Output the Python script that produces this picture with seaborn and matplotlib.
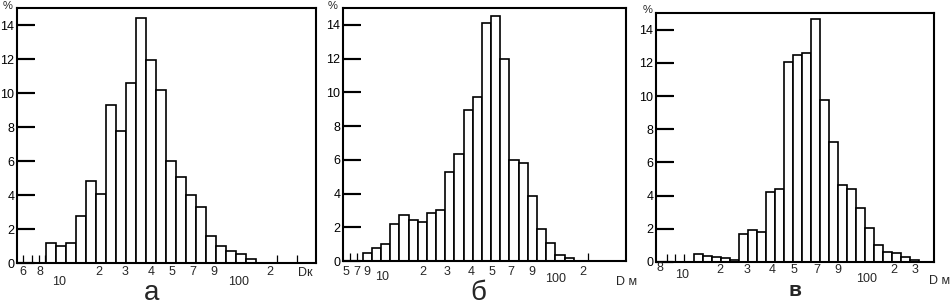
import numpy as np
import matplotlib
matplotlib.use("Agg")
import matplotlib.pyplot as plt
import seaborn as sns

# доли (%) по логарифмическим интервалам D
vals_a = [1.2, 1.0, 1.2, 2.75, 4.85, 4.05, 9.3, 7.75, 10.6, 14.4, 11.95,
          10.15, 6.0, 5.05, 4.0, 3.3, 1.6, 1.0, 0.7, 0.55, 0.25]
vals_b = [0.45, 0.75, 1.0, 2.2, 2.75, 2.45, 2.3, 2.85, 3.0, 5.3, 6.35, 8.95,
          9.75, 14.1, 14.5, 12.0, 6.0, 5.8, 3.85, 1.9, 1.05, 0.35, 0.2]
vals_c = [0.5, 0.35, 0.28, 0.22, 0.12, 1.7, 1.95, 1.8, 4.2, 4.4, 12.05, 12.45,
          12.6, 14.65, 9.75, 7.2, 4.65, 4.4, 3.25, 2.05, 1.05, 0.6, 0.55, 0.28, 0.1]

labels_a = ["6", "8", "10", "2", "3", "4", "5", "7", "9", "100", "2", "Dк"]
labels_b = ["5", "7", "9", "10", "2", "3", "4", "5", "7", "9", "100", "2", "D м"]
labels_c = ["8", "10", "2", "3", "4", "5", "7", "9", "100", "2", "3", "D м"]

y_ticks = [0, 2, 4, 6, 8, 10, 12, 14]
panel_names = ["а", "б", "в"]

# раскладка: положение подписей (в номерах интервалов) и сдвиг вниз в пикселях
PANELS = [
    dict(vals=vals_a, labels=labels_a,
         pos=[-2.83, -1.17, 0.73, 4.73, 7.4, 10.0, 12.07, 14.13, 16.3, 18.73, 21.83, 25.4],
         drop=[9, 9, 19, 9, 9, 9, 9, 9, 9, 19, 9, 10],
         minor=[-2.83, -1.93, -1.27, -0.6, 22.57, 24.57],
         xlim=(-3.43, 26.5), rect=[0.0179, 0.1405, 0.3141, 0.8333],
         pct=(8, 6), name_xy=(152, 293), name_fs=20, name_bold=False),
    dict(vals=vals_b, labels=labels_b,
         pos=[-2.27, -1.18, -0.02, 1.65, 6.09, 8.73, 11.36, 13.55, 15.65, 17.9, 20.56, 23.47, 28.3],
         drop=[11, 11, 11, 16, 11, 11, 11, 11, 11, 11, 18, 11, 21],
         minor=[-1.91, -1.07, -0.35, 1.0, 24.1],
         xlim=(-2.64, 28.2), rect=[0.3603, 0.147, 0.2973, 0.8268],
         pct=(333, 6), name_xy=(478, 293), name_fs=20, name_bold=False),
    dict(vals=vals_c, labels=labels_c,
         pos=[-4.26, -1.85, 2.41, 5.37, 8.26, 10.63, 13.15, 15.56, 18.7, 21.74, 24.07, 26.85],
         drop=[6, 13, 8, 8, 8, 8, 8, 8, 17, 8, 8, 19],
         minor=[-3.52, -2.59, -1.59],
         xlim=(-4.70, 26.2), rect=[0.6891, 0.1438, 0.2920, 0.8137],
         pct=(648, 10), name_xy=(795, 291), name_fs=15, name_bold=True),
]

W, H = 952, 306
TICK_PX = 17


def draw_panel(fig, p, name):
    ax = fig.add_axes(p["rect"])
    x = np.arange(len(p["vals"]))
    sns.barplot(x=x, y=p["vals"], native_scale=True, width=1, color="white",
                saturation=1, edgecolor="black", linewidth=1.2, errorbar=None, ax=ax)

    ax.set_xlim(*p["xlim"])
    ax.set_ylim(0, 15)
    ax.set_xlabel("")
    ax.set_ylabel("")

    for s in ax.spines.values():
        s.set_visible(True)
        s.set_linewidth(1.5)
        s.set_color("black")

    ax.set_yticks(y_ticks, [str(v) for v in y_ticks])
    ax.tick_params(axis="y", which="major", left=True, right=False,
                   direction="in", length=13, width=1.5, pad=2,
                   labelsize=9, color="black", labelcolor="black")
    # длинные внутренние штрихи оси Y, как на исходном рисунке
    frac = TICK_PX / (p["rect"][2] * W)
    ax.hlines(y_ticks, 0, frac, transform=ax.get_yaxis_transform(),
              colors="black", linewidth=1.5, clip_on=False, zorder=3)

    ax.set_xticks(p["minor"], [""] * len(p["minor"]))
    ax.tick_params(axis="x", which="major", bottom=True, top=False,
                   direction="in", length=6, width=0.9, color="black")

    for lab, xp, dy in zip(p["labels"], p["pos"], p["drop"]):
        ax.annotate(lab, xy=(xp, 0), xycoords=("data", "axes fraction"),
                    xytext=(0, -dy), textcoords="offset pixels",
                    ha="center", va="center", fontsize=9, annotation_clip=False)

    fig.text(p["pct"][0] / W, 1 - p["pct"][1] / H, "%", ha="center",
             va="center", fontsize=8)
    fig.text(p["name_xy"][0] / W, 1 - p["name_xy"][1] / H, name,
             ha="center", va="center", fontsize=p["name_fs"],
             fontweight="bold" if p["name_bold"] else "normal")
    return ax


if __name__ == "__main__":
    sns.set_style("ticks")
    plt.rcParams["font.family"] = ["Liberation Sans", "DejaVu Sans"]
    plt.rcParams["xtick.direction"] = "in"
    plt.rcParams["ytick.direction"] = "in"

    fig = plt.figure(figsize=(W / 100, H / 100), dpi=100)
    for p, name in zip(PANELS, panel_names):
        draw_panel(fig, p, name)

    fig.savefig("out.png", dpi=100)
    plt.close()
